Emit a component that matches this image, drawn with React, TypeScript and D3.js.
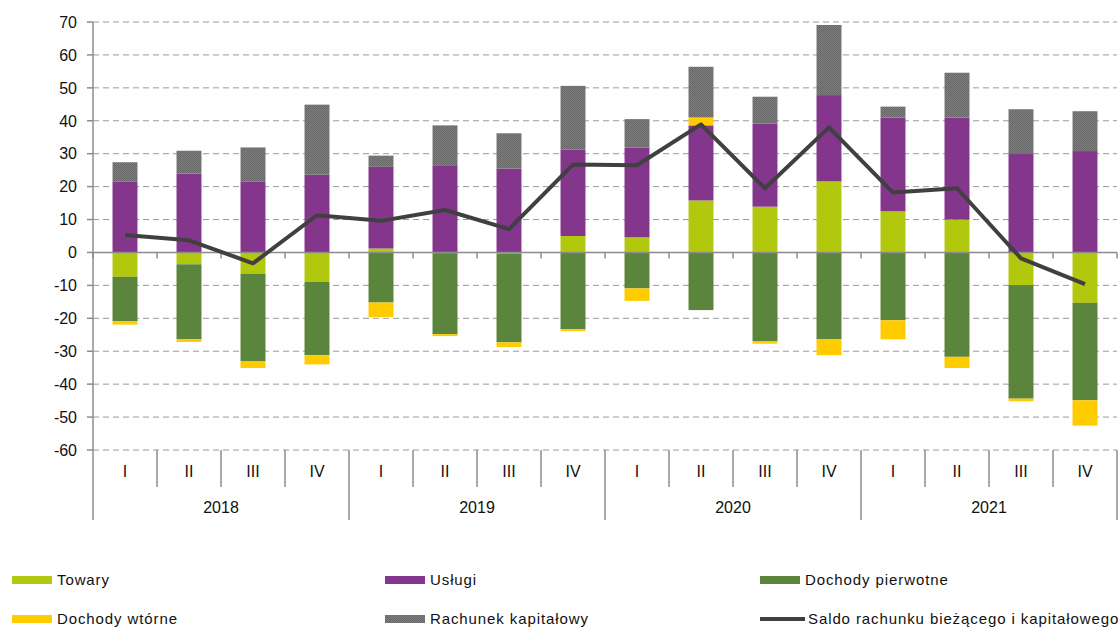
import React, { useEffect, useRef } from "react";
import * as d3 from "d3";

// quarters and years on the category axis
const quarters = ["I", "II", "III", "IV", "I", "II", "III", "IV", "I", "II", "III", "IV", "I", "II", "III", "IV"];
const years = ["2018", "2019", "2020", "2021"];

// series values (mld zł)
const towary = [-7.4, -3.6, -6.5, -8.9, 1.2, -0.2, -0.3, 5.0, 4.6, 15.8, 13.9, 21.6, 12.5, 10.0, -9.9, -15.3];
const uslugi = [21.6, 24.0, 21.6, 23.6, 24.8, 26.5, 25.5, 26.3, 27.3, 22.8, 25.2, 26.2, 28.5, 31.0, 29.9, 30.8];
const dochodyPierwotne = [-13.5, -22.7, -26.6, -22.3, -15.2, -24.6, -27.0, -23.3, -10.9, -17.5, -26.9, -26.4, -20.6, -31.7, -34.5, -29.6];
const dochodyWtorne = [-1.0, -0.9, -2.0, -2.8, -4.4, -0.6, -1.4, -0.6, -3.8, 2.4, -0.8, -4.8, -5.8, -3.4, -0.8, -7.7];
const rachunekKapitalowy = [5.8, 6.9, 10.3, 21.3, 3.4, 12.1, 10.7, 19.3, 8.6, 15.4, 8.2, 21.3, 3.3, 13.6, 13.6, 12.1];
const saldo = [5.3, 3.7, -3.3, 11.3, 9.6, 12.9, 7.1, 26.7, 26.5, 38.9, 19.5, 38.0, 18.2, 19.5, -1.8, -9.6];

const yTicks = [70, 60, 50, 40, 30, 20, 10, 0, -10, -20, -30, -40, -50, -60];

const seriesNames = ["Towary", "Usługi", "Dochody pierwotne", "Dochody wtórne", "Rachunek kapitałowy"];
const seriesValues = [towary, uslugi, dochodyPierwotne, dochodyWtorne, rachunekKapitalowy];
const seriesColors = ["#b1c80f", "#83368c", "#5b843c", "#ffcc00", "url(#grayPattern)"];
const lineName = "Saldo rachunku bieżącego i kapitałowego";

const App = () => {
  const svgRef = useRef<SVGSVGElement>(null);

  useEffect(() => {
    const svg = d3.select(svgRef.current);
    svg.selectAll("*").remove();

    const width = 1120;
    const height = 627;
    const margin = { left: 93, right: 3, top: 22, bottom: 177 };
    const font = "Liberation Sans, Arial, sans-serif";

    svg.attr("width", width).attr("height", height);

    // dithered gray like the original
    const defs = svg.append("defs");
    const pat = defs.append("pattern")
      .attr("id", "grayPattern")
      .attr("width", 2)
      .attr("height", 2)
      .attr("patternUnits", "userSpaceOnUse");
    pat.append("rect").attr("width", 2).attr("height", 2).attr("fill", "#7c7c7c");
    pat.append("rect").attr("width", 1).attr("height", 1).attr("fill", "#6a6a6a");
    pat.append("rect").attr("x", 1).attr("y", 1).attr("width", 1).attr("height", 1).attr("fill", "#6a6a6a");

    const idx = d3.range(quarters.length);

    const x = d3.scaleBand<number>()
      .domain(idx)
      .range([margin.left, width - margin.right])
      .paddingInner(0.61)
      .paddingOuter(0.305);

    const step = x.step();
    const left = margin.left;

    const y = d3.scaleLinear()
      .domain([-60, 70])
      .range([height - margin.bottom, margin.top]);

    // grid lines
    svg.append("g")
      .selectAll("line")
      .data(yTicks.filter(d => d !== 0))
      .enter()
      .append("line")
      .attr("x1", left)
      .attr("x2", width - margin.right)
      .attr("y1", d => y(d))
      .attr("y2", d => y(d))
      .attr("stroke", "#9a9a9a")
      .attr("stroke-width", 1)
      .attr("stroke-dasharray", "6,4");

    // stacked bars
    const table = idx.map(i => {
      const row: any = { i };
      seriesNames.forEach((n, k) => (row[n] = seriesValues[k][i]));
      return row;
    });

    const stack = d3.stack<any>()
      .keys(seriesNames)
      .offset(d3.stackOffsetDiverging);

    const layers = stack(table);

    layers.forEach((layer, k) => {
      svg.append("g")
        .attr("fill", seriesColors[k])
        .selectAll("rect")
        .data(layer)
        .enter()
        .append("rect")
        .attr("x", d => x(d.data.i)!)
        .attr("width", x.bandwidth())
        .attr("y", d => y(Math.max(d[0], d[1])))
        .attr("height", d => Math.abs(y(d[0]) - y(d[1])));
    });

    // y axis
    svg.append("line")
      .attr("x1", left).attr("x2", left)
      .attr("y1", y(70)).attr("y2", y(-60))
      .attr("stroke", "#8c8c8c").attr("stroke-width", 1.5);

    const yAxis = svg.append("g");
    yTicks.forEach(t => {
      yAxis.append("line")
        .attr("x1", left - 6).attr("x2", left)
        .attr("y1", y(t)).attr("y2", y(t))
        .attr("stroke", "#8c8c8c").attr("stroke-width", 1.5);
      yAxis.append("text")
        .attr("x", left - 16)
        .attr("y", y(t))
        .attr("dy", "0.36em")
        .attr("text-anchor", "end")
        .attr("font-family", font)
        .attr("font-size", 16)
        .attr("fill", "#111")
        .text(t);
    });

    // zero line with small ticks
    svg.append("line")
      .attr("x1", left).attr("x2", width - margin.right)
      .attr("y1", y(0)).attr("y2", y(0))
      .attr("stroke", "#8c8c8c").attr("stroke-width", 1.5);

    svg.append("g")
      .selectAll("line")
      .data(d3.range(quarters.length + 1))
      .enter()
      .append("line")
      .attr("x1", d => left + d * step)
      .attr("x2", d => left + d * step)
      .attr("y1", y(0))
      .attr("y2", y(0) + 6)
      .attr("stroke", "#8c8c8c").attr("stroke-width", 1.5);

    // category axis at the bottom (two levels)
    const base = y(-60);
    const catAxis = svg.append("g");
    d3.range(quarters.length + 1).forEach(k => {
      const isYear = k % 4 === 0;
      catAxis.append("line")
        .attr("x1", left + k * step)
        .attr("x2", left + k * step)
        .attr("y1", base)
        .attr("y2", isYear ? base + 70 : base + 37)
        .attr("stroke", "#8c8c8c").attr("stroke-width", 1.5);
    });

    catAxis.selectAll("text.q")
      .data(idx)
      .enter()
      .append("text")
      .attr("class", "q")
      .attr("x", d => x(d)! + x.bandwidth() / 2)
      .attr("y", base + 27)
      .attr("text-anchor", "middle")
      .attr("font-family", font)
      .attr("font-size", 16)
      .attr("fill", "#111")
      .text(d => quarters[d]);

    catAxis.selectAll("text.yr")
      .data(years)
      .enter()
      .append("text")
      .attr("class", "yr")
      .attr("x", (d, k) => left + (k * 4 + 2) * step)
      .attr("y", base + 63)
      .attr("text-anchor", "middle")
      .attr("font-family", font)
      .attr("font-size", 16)
      .attr("fill", "#111")
      .text(d => d);

    // line
    const line = d3.line<number>()
      .x((d, i) => x(i)! + x.bandwidth() / 2)
      .y(d => y(d));

    svg.append("path")
      .datum(saldo)
      .attr("fill", "none")
      .attr("stroke", "#404040")
      .attr("stroke-width", 4)
      .attr("stroke-linejoin", "round")
      .attr("d", line);

    // legend
    const legendItems = [
      { name: seriesNames[0], color: seriesColors[0], type: "rect" },
      { name: seriesNames[1], color: seriesColors[1], type: "rect" },
      { name: seriesNames[2], color: seriesColors[2], type: "rect" },
      { name: seriesNames[3], color: seriesColors[3], type: "rect" },
      { name: seriesNames[4], color: seriesColors[4], type: "rect" },
      { name: lineName, color: "#404040", type: "line" },
    ];
    const colX = [12, 385, 760];
    const rowY = [580, 619];

    const legend = svg.append("g");
    legendItems.forEach((item, k) => {
      const lx = colX[k % 3];
      const ly = rowY[Math.floor(k / 3)];
      if (item.type === "rect") {
        legend.append("rect")
          .attr("x", lx).attr("y", ly - 4)
          .attr("width", 40).attr("height", 8)
          .attr("fill", item.color);
      } else {
        legend.append("line")
          .attr("x1", lx).attr("x2", lx + 45)
          .attr("y1", ly).attr("y2", ly)
          .attr("stroke", item.color).attr("stroke-width", 4);
      }
      legend.append("text")
        .attr("x", lx + (item.type === "rect" ? 45 : 48))
        .attr("y", ly)
        .attr("dy", "0.36em")
        .attr("font-family", font)
        .attr("font-size", 15)
        .attr("letter-spacing", 0.9)
        .attr("fill", "#111")
        .text(item.name);
    });
  }, []);

  return (
    <div style={{ position: "absolute", left: 0, top: 0 }}>
      <svg ref={svgRef} style={{ display: "block" }}></svg>
    </div>
  );
};

export default App;
